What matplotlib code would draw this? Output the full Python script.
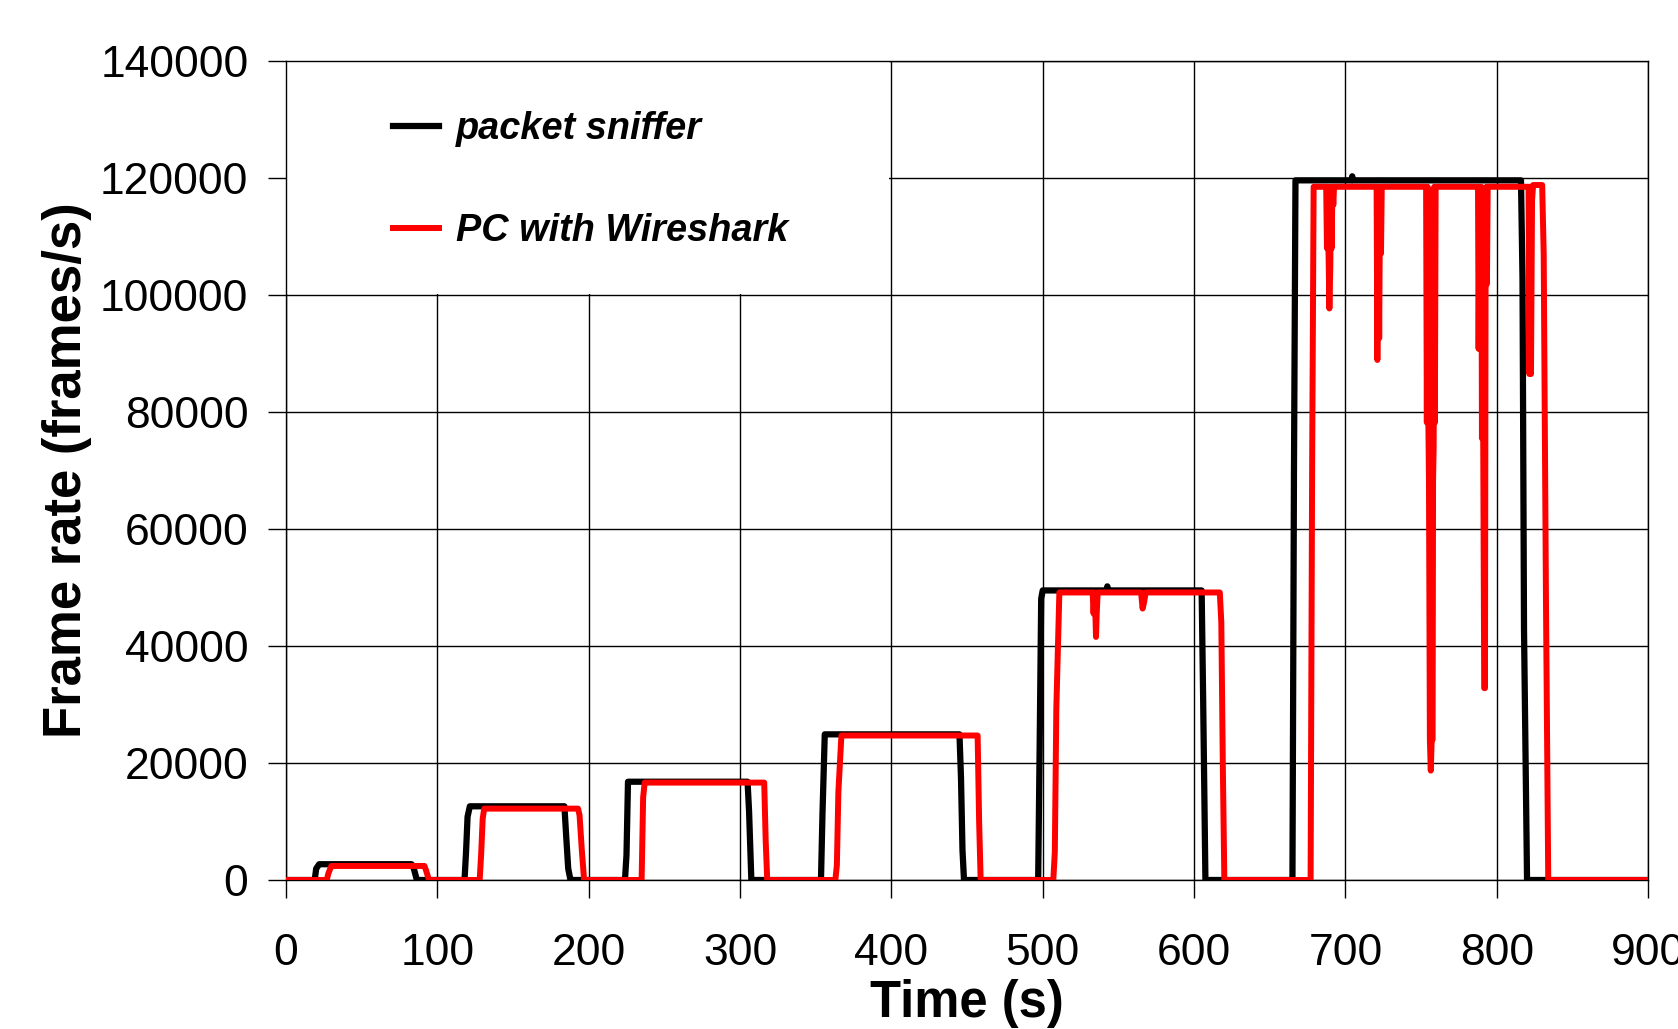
import matplotlib
matplotlib.use("Agg")
import matplotlib.pyplot as plt
from matplotlib.patches import Rectangle

plt.rcParams['font.family'] = ['Liberation Sans', 'DejaVu Sans']

# packet sniffer (black) - breakpoints
t_sniffer = [0, 19, 20, 22, 83, 84.5, 86.5,
             118, 119, 120, 121.5, 184, 185, 186.5, 188,
             224, 225, 226, 305, 306, 307.5,
             353.5, 354.5, 356, 445, 446, 447, 448,
             497, 498, 499, 500, 542, 542.7, 543.4, 605, 606, 607.5,
             665, 666, 667, 704, 704.5, 705, 816, 817, 818, 820, 900]
fps_sniffer = [0, 0, 1950, 2700, 2700, 1950, 0,
               0, 4800, 10800, 12600, 12600, 8200, 1950, 0,
               0, 4220, 16800, 16800, 11700, 0,
               0, 11350, 24900, 24900, 17600, 5080, 0,
               0, 23300, 48100, 49500, 49500, 50200, 49500, 49500, 31000, 0,
               0, 69500, 119600, 119600, 120300, 119600, 119600, 102800, 42750, 0, 0]

# PC with Wireshark (red)
t_pc = [0, 27, 28, 30, 91.5, 92.5, 94.5,
        128, 129, 130, 131, 193, 194, 195.5, 197,
        235, 236, 237, 316, 317, 318,
        363, 364, 365, 367, 457, 458, 459,
        507, 508, 509, 511,
        533, 533.6, 534.2, 534.8, 535.2, 535.7, 536.3,
        565, 566, 567, 568, 617, 618, 619, 620,
        677, 678, 679,
        687.3, 687.8, 688.3, 688.8, 689.4, 690, 690.5, 690.9, 691.4, 692, 692.5,
        720.6, 721.1, 721.7, 722.3, 722.9, 723.5, 724,
        753.3, 753.8, 754.3, 754.8, 755.2, 755.8, 756.4, 757, 757.6, 757.9, 758.3, 758.7, 759.1, 759.6,
        787.6, 788, 788.6, 789.2, 789.8, 790.2, 790.8, 791.7, 792.2, 792.6, 793.1, 793.5, 794,
        821, 821.5, 822, 822.6, 823.3, 824, 830, 831, 832.5, 834, 900]
fps_pc = [0, 0, 1100, 2400, 2400, 1700, 0,
          0, 4500, 10500, 12200, 12200, 11060, 5080, 0,
          0, 14100, 16650, 16650, 6500, 0,
          0, 2510, 15050, 24700, 24700, 9900, 0,
          0, 4790, 29300, 49150,
          49150, 45550, 49150, 45550, 41550, 45550, 49150,
          49150, 46400, 47500, 49150, 49150, 44100, 19600, 0,
          0, 70350, 118500,
          118500, 108000, 118500, 108000, 97700, 104800, 118500, 108000, 118500, 115400, 118500,
          118500, 88900, 118500, 92600, 118500, 107100, 118500,
          118500, 78200, 118500, 78200, 68300, 24000, 18700, 24000, 24000, 68300, 74000, 118500, 78200, 118500,
          118500, 90800, 118500, 90800, 118500, 75500, 90800, 32800, 32800, 101900, 118500, 101900, 118500,
          118500, 86500, 118500, 86500, 116200, 118800, 118800, 107000, 47800, 0, 0]

x_ticks = list(range(0, 1000, 100))
y_ticks = list(range(0, 160000, 20000))

fig = plt.figure(figsize=(16.78, 10.29), dpi=100)
ax = fig.add_axes([0.1704, 0.1448, 0.8118, 0.7959])

ax.plot(t_sniffer, fps_sniffer, color='black', lw=4.5, label='packet sniffer',
        solid_joinstyle='round', zorder=3)
ax.plot(t_pc, fps_pc, color='#ff0000', lw=4.3, label='PC with Wireshark',
        solid_joinstyle='round', zorder=4)

ax.set_xlim(0, 900)
ax.set_ylim(0, 140000)
ax.set_xticks(x_ticks)
ax.set_yticks(y_ticks)
ax.grid(True, color='black', lw=1.0)
for sp in ax.spines.values():
    sp.set_linewidth(1.0)
ax.tick_params(axis='both', direction='out', length=13, width=1.0, labelsize=32)
ax.tick_params(axis='x', pad=25)
ax.tick_params(axis='y', pad=14)

ax.set_xlabel('Time (s)', fontsize=36.5, fontweight='bold', labelpad=4)
ax.set_ylabel('Frame rate (frames/s)', fontsize=38, fontweight='bold', labelpad=6)

# white area behind the legend, hiding the grid
ax.add_patch(Rectangle((0, 0.7157), 0.443, 0.2843, transform=ax.transAxes,
                       facecolor='white', edgecolor='none', zorder=1.6))

leg = ax.legend(loc='upper left', bbox_to_anchor=(0.065, 0.962), frameon=False,
                borderpad=0, labelspacing=1.75, handlelength=1.2, handletextpad=0.45,
                prop={'size': 27.3, 'weight': 'bold', 'style': 'italic'})

fig.savefig('out.png', dpi=100)
